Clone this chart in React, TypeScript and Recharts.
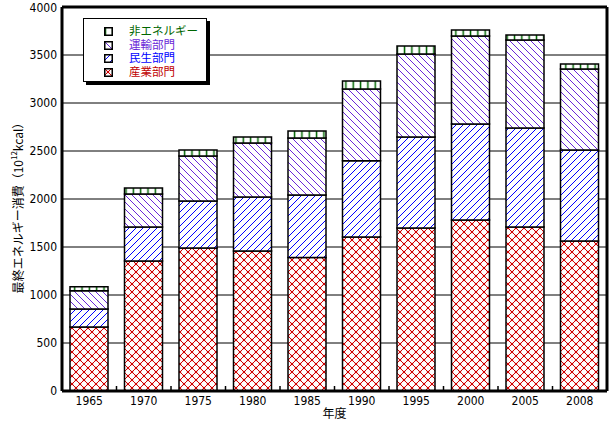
import React from 'react';
import { BarChart, Bar, XAxis, YAxis, CartesianGrid, ReferenceLine } from 'recharts';

const years = ['1965', '1970', '1975', '1980', '1985', '1990', '1995', '2000', '2005', '2008'];
const industry = [667, 1354, 1490, 1458, 1390, 1604, 1698, 1781, 1708, 1563];
const residential = [187, 354, 489, 563, 652, 795, 948, 1000, 1032, 947];
const transport = [191, 344, 469, 562, 593, 747, 864, 917, 916, 844];
const nonEnergy = [41, 63, 62, 63, 73, 83, 84, 62, 52, 52];
const yTicks = [0, 500, 1000, 1500, 2000, 2500, 3000, 3500, 4000];

const legendItems = [
  { name: '非エネルギー', pattern: 'pNon', color: '#006600' },
  { name: '運輸部門', pattern: 'pTrans', color: '#6a28d8' },
  { name: '民生部門', pattern: 'pRes', color: '#0000ff' },
  { name: '産業部門', pattern: 'pInd', color: '#c00000' },
];

const data = years.map((y, i) => ({
  year: y,
  industry: industry[i],
  residential: residential[i],
  transport: transport[i],
  nonEnergy: nonEnergy[i],
}));

const NUM_FONT = "'Liberation Sans Narrow', 'DejaVu Sans Condensed', 'Liberation Sans', sans-serif";
const JP_FONT = "'Noto Sans CJK JP', sans-serif";
const LEGEND_FONT = "'Liberation Sans', 'Noto Sans CJK JP', sans-serif";

const W = 613;
const H = 425;
const LEFT = 62;
const RIGHT_W = 6;
const TOP = 7;
const XAXIS_H = 34;
const PLOT_W = W - LEFT - RIGHT_W;

const Defs = () => (
  <svg width={0} height={0} style={{ position: 'absolute' }}>
    <defs>
      <pattern id="pInd" patternUnits="userSpaceOnUse" width={8} height={8}>
        <rect width={8} height={8} fill="#fff" />
        <path d="M0,0 L8,8 M8,0 L0,8" stroke="#d00000" strokeWidth={1} />
        <circle cx={0} cy={0} r={1.3} fill="#d00000" />
        <circle cx={8} cy={0} r={1.3} fill="#d00000" />
        <circle cx={0} cy={8} r={1.3} fill="#d00000" />
        <circle cx={8} cy={8} r={1.3} fill="#d00000" />
        <circle cx={4} cy={4} r={1.3} fill="#d00000" />
      </pattern>
      <pattern id="pRes" patternUnits="userSpaceOnUse" width={7} height={7}>
        <rect width={7} height={7} fill="#fff" />
        <path d="M0,7 L7,0 M-1,1 L1,-1 M6,8 L8,6" stroke="#0000ff" strokeWidth={1} />
      </pattern>
      <pattern id="pTrans" patternUnits="userSpaceOnUse" width={7} height={7}>
        <rect width={7} height={7} fill="#fff" />
        <path d="M0,0 L7,7 M-1,6 L1,8 M6,-1 L8,1" stroke="#6a28d8" strokeWidth={1} />
      </pattern>
      <pattern id="pNon" patternUnits="userSpaceOnUse" width={7.33} height={10}>
        <rect width={7.33} height={10} fill="#fff" />
        <line x1={1.4} x2={1.4} y1={0} y2={10} stroke="#006600" strokeWidth={1.5} />
      </pattern>
    </defs>
  </svg>
);

const XTick = (props: any) => {
  const { x, y, payload, index } = props;
  const band = PLOT_W / years.length;
  return (
    <g>
      <text x={x} y={y + 14} textAnchor="middle" fontSize={12} fontFamily={NUM_FONT} fill="#000">
        {payload.value}
      </text>
      {index < years.length - 1 && (
        <line x1={x + band / 2} x2={x + band / 2} y1={y} y2={y - 5} stroke="#000" strokeWidth={1.5} />
      )}
    </g>
  );
};

const YLabel = (props: any) => {
  const vb = props.viewBox;
  const cx = vb.x + 17;
  const cy = vb.y + vb.height / 2 + 6;
  return (
    <text
      x={cx}
      y={cy}
      transform={`rotate(-90, ${cx}, ${cy})`}
      textAnchor="middle"
      dominantBaseline="central"
      fontSize={12}
      fontFamily={JP_FONT}
      fill="#000"
    >
      最終エネルギー消費（10
      <tspan dy={-4} fontSize={8}>12</tspan>
      <tspan dy={4}>kcal）</tspan>
    </text>
  );
};

const XLabel = (props: any) => {
  const vb = props.viewBox;
  return (
    <text
      x={vb.x + vb.width / 2}
      y={vb.y + 27}
      textAnchor="middle"
      fontSize={12}
      fontFamily={JP_FONT}
      fill="#000"
    >
      年度
    </text>
  );
};

const Legend = () => (
  <div
    style={{
      position: 'absolute',
      left: 83,
      top: 18,
      width: 122,
      height: 62,
      background: '#fff',
      border: '1.5px solid #000',
      boxShadow: '3px 3px 0 #000',
    }}
  >
    {legendItems.map((it, i) => (
      <div
        key={it.name}
        style={{
          position: 'absolute',
          left: 0,
          top: 6 + i * 13.7,
          height: 13,
          width: 120,
        }}
      >
        <svg width={9} height={9} style={{ position: 'absolute', left: 20, top: 2 }}>
          <rect x={0.75} y={0.75} width={7.5} height={7.5} fill={`url(#${it.pattern})`} stroke="#000" strokeWidth={1.5} />
        </svg>
        <span
          style={{
            position: 'absolute',
            left: 45,
            top: 0,
            height: 13,
            lineHeight: '13px',
            whiteSpace: 'nowrap',
            fontSize: 11.5,
            fontFamily: LEGEND_FONT,
            color: it.color,
          }}
        >
          {it.name}
        </span>
      </div>
    ))}
  </div>
);

export default function App() {
  return (
    <div style={{ position: 'absolute', left: 0, top: 0, width: W, height: H, background: '#fff' }}>
      <Defs />
      <BarChart width={W} height={H} data={data} margin={{ top: TOP, right: 0, bottom: 0, left: 0 }}>
        <CartesianGrid vertical={false} stroke="#000" strokeWidth={1} strokeOpacity={1} />
        <XAxis
          dataKey="year"
          height={XAXIS_H}
          tick={<XTick />}
          tickLine={false}
          tickSize={0}
          tickMargin={0}
          axisLine={{ stroke: '#000', strokeWidth: 3 }}
          interval={0}
          label={(p: any) => <XLabel {...p} />}
        />
        <YAxis
          width={LEFT}
          domain={[0, 4000]}
          ticks={yTicks}
          tickLine={false}
          tickSize={0}
          tickMargin={5}
          tick={{ fill: '#000', fontSize: 12, fontFamily: NUM_FONT }}
          axisLine={{ stroke: '#000', strokeWidth: 3 }}
          allowDataOverflow
          label={(p: any) => <YLabel {...p} />}
        />
        <YAxis
          yAxisId="right"
          orientation="right"
          width={RIGHT_W}
          domain={[0, 4000]}
          tick={false}
          tickLine={false}
          axisLine={{ stroke: '#000', strokeWidth: 3 }}
        />
        <ReferenceLine y={4000} stroke="#000" strokeWidth={3} />
        <Bar dataKey="industry" stackId="s" fill="url(#pInd)" stroke="#000" strokeWidth={1.5} barSize={38} isAnimationActive={false} />
        <Bar dataKey="residential" stackId="s" fill="url(#pRes)" stroke="#000" strokeWidth={1.5} barSize={38} isAnimationActive={false} />
        <Bar dataKey="transport" stackId="s" fill="url(#pTrans)" stroke="#000" strokeWidth={1.5} barSize={38} isAnimationActive={false} />
        <Bar dataKey="nonEnergy" stackId="s" fill="url(#pNon)" stroke="#000" strokeWidth={1.5} barSize={38} isAnimationActive={false} />
      </BarChart>
      <Legend />
    </div>
  );
}
